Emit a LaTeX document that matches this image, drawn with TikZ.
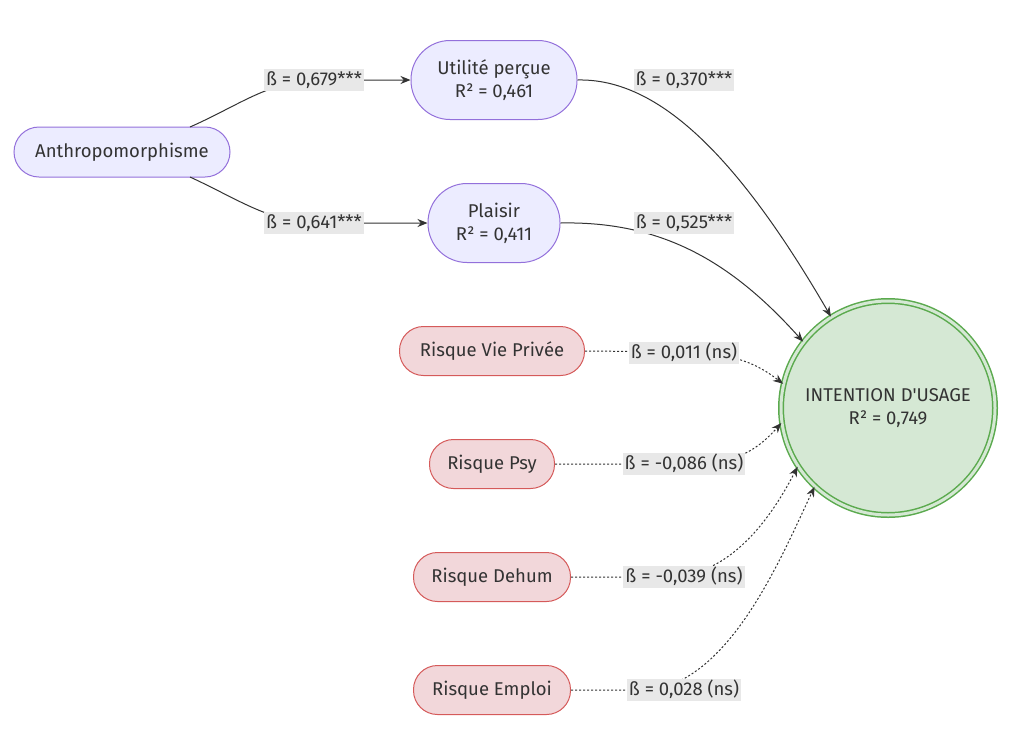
\documentclass[tikz,border=0pt]{standalone}
\usepackage{fontspec}
\setmainfont{Fira Sans}
\usetikzlibrary{arrows.meta}
\definecolor{pfill}{HTML}{ECECFF}\definecolor{pdraw}{HTML}{9370DB}
\definecolor{rfill}{HTML}{F2D7DA}\definecolor{rdraw}{HTML}{D55A5A}
\definecolor{gfill}{HTML}{D5E8D4}\definecolor{gdraw}{HTML}{5BAA4E}
\definecolor{lab}{HTML}{E8E8E8}\definecolor{txt}{HTML}{333333}
\begin{document}
\begin{tikzpicture}[x=1pt,y=-1pt,
  font=\fontsize{18.5}{23}\selectfont, text=txt,
  pnode/.style={draw=pdraw,fill=pfill,line width=1pt,rounded corners=25pt,align=center,inner sep=0pt},
  rnode/.style={draw=rdraw,fill=rfill,line width=1pt,rounded corners=24pt,minimum height=49pt,inner sep=0pt},
  lbl/.style={fill=lab,inner sep=2pt,text height=14pt,text depth=4pt},
  edge/.style={draw=txt,line width=1pt,-{Stealth[length=10pt,width=8pt]}},
  dedge/.style={edge,dash pattern=on 2pt off 2pt}]
\useasboundingbox (0,0) rectangle (1024,753);
\node[pnode,minimum width=216pt,minimum height=50pt] (a) at (122,152) {Anthropomorphisme};
\node[pnode,minimum width=166pt,minimum height=79pt,rounded corners=39pt] (u) at (494,80) {Utilité perçue\\R² = 0,461};
\node[pnode,minimum width=132pt,minimum height=79pt,rounded corners=39pt] (p) at (494,223) {Plaisir\\R² = 0,411};
\node[rnode,minimum width=185pt] (r1) at (492,351) {Risque Vie Privée};
\node[rnode,minimum width=125pt] (r2) at (492,464) {Risque Psy};
\node[rnode,minimum width=157pt] (r3) at (492,577) {Risque Dehum};
\node[rnode,minimum width=157pt] (r4) at (492,690) {Risque Emploi};
\node[circle,draw=gdraw,fill=gfill,line width=1.5pt,minimum size=214pt,align=center,double=gfill,double distance=3pt] (i) at (888,408) {INTENTION D\textquotesingle USAGE\\R² = 0,749};
\coordinate (a1) at (190,127); \coordinate (a2) at (190,177);
\draw[edge] (a1) .. controls (240,105) and (270,80) .. (320,80) -- (u.west);
\draw[edge] (a2) .. controls (240,200) and (270,223) .. (320,223) -- (p.west);
\draw[edge] (u.east) .. controls (660,78) and (740,160) .. (i.122);
\draw[edge] (p.east) .. controls (660,221) and (730,260) .. (i.142);
\draw[dedge] (r1.east) -- (700,352) .. controls (740,356) and (760,366) .. (i.167);
\draw[dedge] (r2.east) -- (700,464) .. controls (740,462) and (760,447) .. (i.188);
\draw[dedge] (r3.east) -- (670,577) .. controls (730,575) and (770,520) .. (i.213);
\draw[dedge] (r4.east) -- (650,690) .. controls (730,680) and (780,560) .. (i.227);
\node[lbl] at (314,80) {ß = 0,679***};
\node[lbl] at (314,223) {ß = 0,641***};
\node[lbl] at (684,80) {ß = 0,370***};
\node[lbl] at (684,223) {ß = 0,525***};
\node[lbl] at (684,353) {ß = 0,011 (ns)};
\node[lbl] at (684,464) {ß = -0,086 (ns)};
\node[lbl] at (684,577) {ß = -0,039 (ns)};
\node[lbl] at (684,690) {ß = 0,028 (ns)};
\end{tikzpicture}
\end{document}
